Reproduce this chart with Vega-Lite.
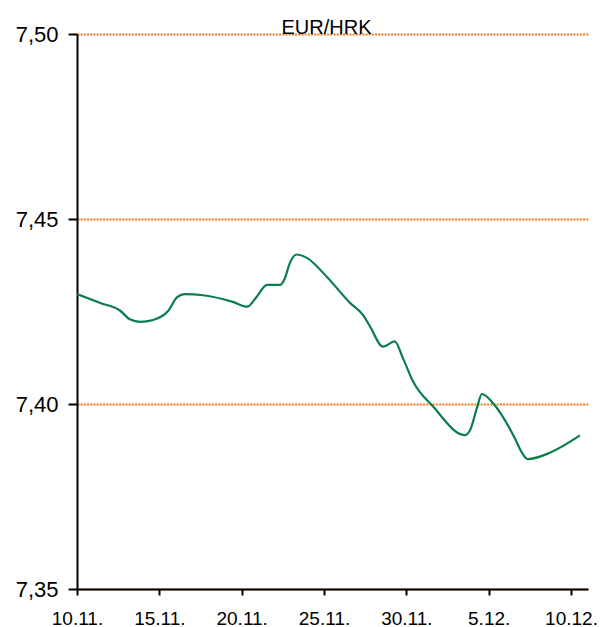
{
  "$schema": "https://vega.github.io/schema/vega-lite/v6.json",
  "width": 511,
  "height": 555,
  "autosize": {"type": "none"},
  "padding": {"left": 77, "top": 34, "right": 21, "bottom": 38},
  "background": "white",
  "title": {
    "text": "EUR/HRK",
    "font": "Liberation Sans",
    "fontSize": 20,
    "fontWeight": "normal",
    "color": "black",
    "anchor": "middle",
    "baseline": "alphabetic",
    "offset": 1,
    "dx": -6,
    "dy": 32
  },
  "data": {
    "values": [
      {"date": "2018-11-10T00:00Z", "rate": 7.4297},
      {"date": "2018-11-11T10:00Z", "rate": 7.4273},
      {"date": "2018-11-12T15:00Z", "rate": 7.4252},
      {"date": "2018-11-13T05:00Z", "rate": 7.4229},
      {"date": "2018-11-13T20:00Z", "rate": 7.4222},
      {"date": "2018-11-14T15:00Z", "rate": 7.4227},
      {"date": "2018-11-15T13:00Z", "rate": 7.4252},
      {"date": "2018-11-16T02:00Z", "rate": 7.4289},
      {"date": "2018-11-16T13:00Z", "rate": 7.4297},
      {"date": "2018-11-17T16:00Z", "rate": 7.4294},
      {"date": "2018-11-19T11:00Z", "rate": 7.4276},
      {"date": "2018-11-20T08:00Z", "rate": 7.4263},
      {"date": "2018-11-20T22:00Z", "rate": 7.4290},
      {"date": "2018-11-21T13:00Z", "rate": 7.4322},
      {"date": "2018-11-22T08:00Z", "rate": 7.4322},
      {"date": "2018-11-22T15:00Z", "rate": 7.4340},
      {"date": "2018-11-22T22:00Z", "rate": 7.4380},
      {"date": "2018-11-23T08:00Z", "rate": 7.4404},
      {"date": "2018-11-23T23:00Z", "rate": 7.4395},
      {"date": "2018-11-25T04:00Z", "rate": 7.4344},
      {"date": "2018-11-26T14:00Z", "rate": 7.4273},
      {"date": "2018-11-27T09:00Z", "rate": 7.4240},
      {"date": "2018-11-27T19:00Z", "rate": 7.4210},
      {"date": "2018-11-28T14:00Z", "rate": 7.4155},
      {"date": "2018-11-29T07:00Z", "rate": 7.4169},
      {"date": "2018-11-29T19:00Z", "rate": 7.4124},
      {"date": "2018-11-30T10:00Z", "rate": 7.4060},
      {"date": "2018-12-01T15:00Z", "rate": 7.3993},
      {"date": "2018-12-03T13:00Z", "rate": 7.3916},
      {"date": "2018-12-03T21:00Z", "rate": 7.3930},
      {"date": "2018-12-04T07:00Z", "rate": 7.3990},
      {"date": "2018-12-04T14:00Z", "rate": 7.4027},
      {"date": "2018-12-05T06:00Z", "rate": 7.4003},
      {"date": "2018-12-06T14:00Z", "rate": 7.3908},
      {"date": "2018-12-07T00:00Z", "rate": 7.3870},
      {"date": "2018-12-07T09:00Z", "rate": 7.3851},
      {"date": "2018-12-08T17:00Z", "rate": 7.3868},
      {"date": "2018-12-10T13:00Z", "rate": 7.3915}
    ]
  },
  "mark": {"type": "line", "color": "#0a7d4c", "strokeWidth": 2.2, "interpolate": "monotone", "clip": true},
  "encoding": {
    "x": {
      "field": "date",
      "type": "temporal",
      "scale": {
        "type": "utc",
        "domain": [
          {"year": 2018, "month": 11, "date": 10, "utc": true},
          {"year": 2018, "month": 12, "date": 11, "hours": 0, "minutes": 45, "utc": true}
        ]
      },
      "axis": {
        "title": null,
        "values": [
          {"year": 2018, "month": 11, "date": 10, "utc": true},
          {"year": 2018, "month": 11, "date": 15, "utc": true},
          {"year": 2018, "month": 11, "date": 20, "utc": true},
          {"year": 2018, "month": 11, "date": 25, "utc": true},
          {"year": 2018, "month": 11, "date": 30, "utc": true},
          {"year": 2018, "month": 12, "date": 5, "utc": true},
          {"year": 2018, "month": 12, "date": 10, "utc": true}
        ],
        "format": "%-d.%-m.",
        "grid": false,
        "domainColor": "black",
        "domainWidth": 2,
        "tickColor": "black",
        "tickWidth": 2,
        "tickSize": 6,
        "labelFont": "Liberation Sans",
        "labelFontSize": 19,
        "labelColor": "black",
        "labelPadding": 14,
        "labelDx": 7,
        "labelBaseline": "top",
        "labelOverlap": false,
        "labelFlush": false
      }
    },
    "y": {
      "field": "rate",
      "type": "quantitative",
      "scale": {"domain": [7.35, 7.5], "zero": false, "nice": false},
      "axis": {
        "title": null,
        "values": [7.35, 7.4, 7.45, 7.5],
        "labelExpr": "replace(format(datum.value, '.2f'), '.', ',')",
        "grid": true,
        "gridColor": "#f27518",
        "gridDash": [2, 1.2],
        "gridWidth": 2,
        "domainColor": "black",
        "domainWidth": 2,
        "tickColor": "black",
        "tickWidth": 2,
        "tickSize": 9,
        "labelFont": "Liberation Sans",
        "labelFontSize": 22,
        "labelColor": "black",
        "labelPadding": 10,
        "labelFlush": false
      }
    }
  },
  "config": {"view": {"stroke": null}}
}
